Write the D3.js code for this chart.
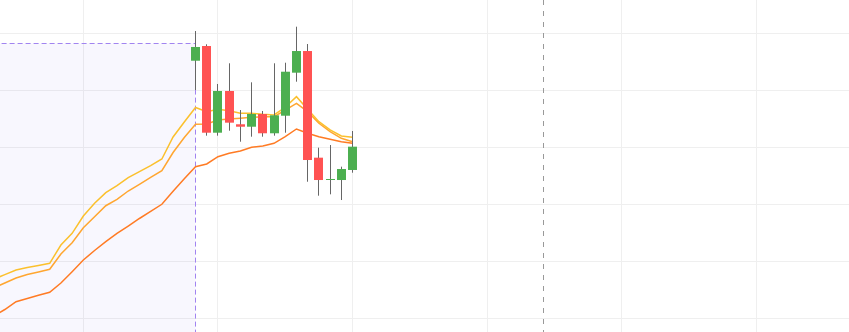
<!DOCTYPE html>
<html>
<head>
<meta charset="utf-8">
<script src="https://cdn.jsdelivr.net/npm/d3@7"></script>
<style>
  html, body { margin: 0; padding: 0; background: #fff; }
  svg { display: block; font-family: "Noto Sans", sans-serif; }
</style>
</head>
<body>
<div id="chart"></div>
<script>
// Candle indices (0 = first visible candle), MA lines start earlier
const maIndex = d3.range(-18, 15);
const candleIndex = d3.range(0, 15);

// Candle OHLC values
const opens  = [145.19, 147.77, 132.56, 139.88, 134.04, 133.61, 135.84, 132.46, 135.54, 143.09, 146.89, 128.18, 124.32, 124.26, 126.02];
const highs  = [150.40, 148.07, 141.11, 144.74, 136.54, 141.40, 136.37, 144.74, 144.84, 151.16, 148.12, 129.93, 130.40, 126.60, 132.86];
const lows   = [140.05, 132.04, 132.04, 132.91, 130.98, 131.86, 131.86, 132.04, 132.56, 141.51, 123.96, 121.51, 121.75, 120.75, 125.54];
const closes = [147.60, 132.56, 139.88, 134.32, 133.61, 135.84, 132.46, 135.61, 143.26, 146.89, 127.77, 124.26, 124.44, 126.19, 130.11];

// Moving averages
const maFast = [106.86, 107.67, 108.47, 108.91, 109.26, 109.65, 112.86, 114.91, 117.95, 120.18, 122.04, 123.26, 124.67, 125.72, 126.77, 127.95, 131.81, 134.44,
                136.98, 136.25, 136.67, 136.42, 135.96, 135.96, 135.79, 135.67, 137.02, 138.88, 136.67, 134.49, 133.04, 131.98, 131.75];
const maMid  = [105.32, 106.19, 107.07, 107.68, 108.12, 108.60, 111.28, 113.26, 115.89, 117.82, 119.75, 120.88, 122.33, 123.51, 124.74, 125.89, 129.09, 131.72,
                134.04, 134.09, 134.79, 134.96, 135.09, 135.26, 135.37, 135.37, 136.54, 137.72, 136.25, 134.21, 132.74, 131.58, 130.98];
const maSlow = [100.40, 101.54, 102.91, 103.47, 104.04, 104.56, 106.19, 108.18, 110.23, 111.89, 113.44, 114.88, 116.19, 117.51, 118.74, 120.00, 122.28, 124.49,
                126.60, 127.07, 128.35, 128.95, 129.35, 130.00, 130.23, 130.70, 131.86, 133.21, 132.46, 131.86, 131.40, 130.98, 130.70];

// Grid ticks / markers
const yTicks = [100, 110, 120, 130, 140, 150];
const xGridTicks = [-10, 2, 14, 26, 38, 50];
const rangeStart = -18, rangeEnd = 0, rangeTop = 148.25;
const markerIndex = 31;

const width = 849, height = 332;

const svg = d3.select("#chart")
  .append("svg")
  .attr("width", width)
  .attr("height", height);

const x = d3.scaleLinear().domain([-17.43, 58.26]).range([0, width]);
const y = d3.scaleLinear().domain([100, 150]).range([318.3, 33.3]);
const step = x(1) - x(0);
const px = v => Math.floor(v) + 0.5;

// grid
svg.append("g")
  .selectAll("line")
  .data(yTicks)
  .join("line")
  .attr("x1", 0).attr("x2", width)
  .attr("y1", d => px(y(d)))
  .attr("y2", d => px(y(d)))
  .attr("stroke", "#efefef");

svg.append("g")
  .selectAll("line")
  .data(xGridTicks)
  .join("line")
  .attr("y1", 0).attr("y2", height)
  .attr("x1", d => px(x(d)))
  .attr("x2", d => px(x(d)))
  .attr("stroke", "#efefef");

// highlighted range
svg.append("rect")
  .attr("x", x(rangeStart))
  .attr("y", y(rangeTop))
  .attr("width", px(x(rangeEnd)) - x(rangeStart))
  .attr("height", height - y(rangeTop))
  .attr("fill", "rgba(120, 100, 230, 0.05)");

svg.append("path")
  .attr("d", `M${x(rangeStart)},${px(y(rangeTop))}H${px(x(rangeEnd))}V${height}`)
  .attr("fill", "none")
  .attr("stroke", "#a184f0")
  .attr("stroke-dasharray", "5,3");

// vertical marker
svg.append("line")
  .attr("x1", px(x(markerIndex)))
  .attr("x2", px(x(markerIndex)))
  .attr("y1", 0).attr("y2", height)
  .attr("stroke", "#999")
  .attr("stroke-dasharray", "5,6");

// moving average lines
const line = d3.line().x((d, i) => x(maIndex[i])).y(d => y(d));
[[maSlow, "#ff7b24"], [maMid, "#ffa630"], [maFast, "#fbc02d"]].forEach(([vals, color]) => {
  svg.append("path")
    .datum(vals)
    .attr("d", line)
    .attr("fill", "none")
    .attr("stroke", color)
    .attr("stroke-width", 1.5);
});

// candles
const candles = svg.append("g");
candleIndex.forEach((ci, i) => {
  const cx = px(x(ci));
  const up = closes[i] >= opens[i];
  const color = up ? "#4caf50" : "#ff5252";
  candles.append("line")
    .attr("x1", cx).attr("x2", cx)
    .attr("y1", y(highs[i])).attr("y2", y(lows[i]))
    .attr("stroke", "#666");
  const top = y(Math.max(opens[i], closes[i]));
  const bot = y(Math.min(opens[i], closes[i]));
  const bw = step * 0.8;
  candles.append("rect")
    .attr("x", cx - bw / 2)
    .attr("y", top)
    .attr("width", bw)
    .attr("height", Math.max(1, bot - top))
    .attr("fill", color);
});
</script>
</body>
</html>
